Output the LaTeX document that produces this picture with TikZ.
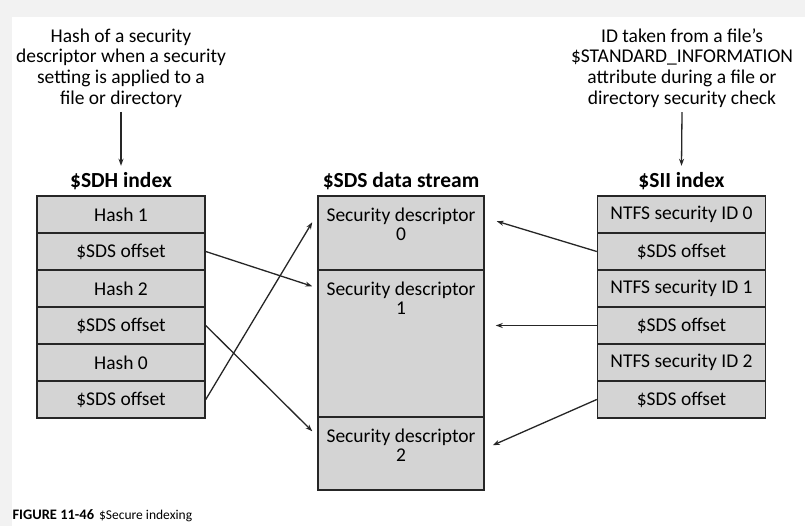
\documentclass[tikz,border=0pt]{standalone}
\usepackage{fontspec}
\setmainfont{Carlito}
\usepackage{xcolor}
\usepackage{tikz}
\usetikzlibrary{arrows.meta, positioning}

\begin{document}
\begin{tikzpicture}[x=1pt, y=-1pt,
  cell/.style={draw=black!85, fill=black!17, line width=1.5pt, minimum width=168pt, minimum height=37pt, inner sep=0pt, font=\fontsize{19.5}{21}\selectfont},
  sdsbox/.style={draw=black!85, fill=black!17, line width=1.5pt, minimum width=166pt, inner sep=0pt},
  sdstext/.style={align=center, inner sep=0pt, font=\fontsize{19.5}{19}\selectfont},
  title/.style={font=\fontsize{21.5}{23}\selectfont\bfseries},
  note/.style={align=center, font=\fontsize{19.5}{20.7}\selectfont},
  ptr/.style={black!85, line width=1.3pt, -{Stealth[length=7pt, width=5pt]}}
]
  % Page with the scanned margin
  \useasboundingbox (0,0) rectangle (805,526);
  \fill[black!5] (0,0) rectangle (805,526);
  \fill[white] (12,17) rectangle (805,526);

  % Notes and column titles
  \node[note] (sdhnote) at (121,68) {Hash of a security\\descriptor when a security\\setting is applied to a\\file or directory};
  \node[note] (siinote) at (682,68) {ID taken from a file’s\\\$STANDARD\_INFORMATION\\attribute during a file or\\directory security check};
  \node[title] (sdhtitle) at (121,181) {\$SDH index};
  \node[title] (sdstitle) at (401,181) {\$SDS data stream};
  \node[title] (siititle) at (681.5,181) {\$SII index};
  \draw[ptr] ([yshift=-1pt]sdhnote.south) -- ([yshift=3pt]sdhtitle.north);
  \draw[ptr] ([yshift=-1pt]siinote.south) -- ([yshift=3pt]siititle.north);

  % Index entries
  \foreach \i/\txt in {1/Hash 1, 2/\$SDS offset, 3/Hash 2, 4/\$SDS offset, 5/Hash 0, 6/\$SDS offset}{
    \node[cell] (sdh\i) at (121,{177.5+37*\i}) {\txt};
  }
  \foreach \i/\txt in {1/NTFS security ID 0, 2/\$SDS offset, 3/NTFS security ID 1, 4/\$SDS offset, 5/NTFS security ID 2, 6/\$SDS offset}{
    \node[cell] (sii\i) at (681.5,{177.5+37*\i}) {\txt};
  }

  % Data stream
  \node[sdsbox, minimum height=74pt] (sds0) at (401,233) {};
  \node[sdsbox, minimum height=147pt] (sds1) at (401,343.5) {};
  \node[sdsbox, minimum height=73pt] (sds2) at (401,453.5) {};
  \foreach \i in {0,1,2}{
    \node[sdstext, below=13pt of sds\i.north] (sdt\i) {Security descriptor\\\i};
  }

  % Offsets into the stream
  \draw[ptr] (sdh2.east) -- ([xshift=-5pt, yshift=-17pt]sds1.north west);
  \draw[ptr] (sdh4.east) -- ([xshift=-5pt, yshift=-15pt]sds2.north west);
  \draw[ptr] (sdh6.east) -- ([xshift=-5pt, yshift=-27pt]sds0.north west);
  \draw[ptr] (sii2.west) -- ([xshift=12pt, yshift=-26pt]sds0.north east);
  \draw[ptr] (sii4.west) -- ([xshift=11pt]sii4.west -| sds1.east);
  \draw[ptr] (sii6.west) -- ([xshift=8pt, yshift=-29pt]sds2.north east);

  % Caption
  \node[anchor=west, font=\fontsize{13.5}{16}\selectfont] (caption) at (9,516) {{\fontsize{14.5}{16}\selectfont\bfseries FIGURE 11-46}\hspace{5pt}\$Secure indexing};
\end{tikzpicture}
\end{document}
